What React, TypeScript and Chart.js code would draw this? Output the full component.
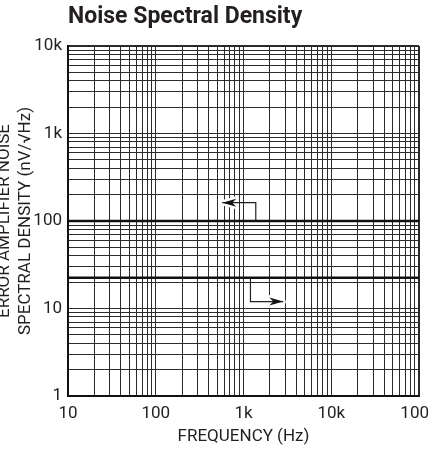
import React, { useEffect, useRef } from 'react';
import { Chart, registerables } from 'chart.js';

Chart.register(...registerables);

// ---- data ----
const title = 'Noise Spectral Density';
const xTitle = 'FREQUENCY (Hz)';
const yTitle = ['ERROR AMPLIFIER NOISE', 'SPECTRAL DENSITY (nV/√Hz)'];

const xDecades = [10, 100, 1000, 10000, 100000];
const xTickLabels = ['10', '100', '1k', '10k', '100k'];
const yDecades = [1, 10, 100, 1000, 10000];
const yTickLabels = ['1', '10', '100', '1k', '10k'];
const gridMultipliers = [1, 2, 3, 4, 5, 6, 7, 8, 9];

const lineFreqs = [10, 100000];
const upperNoise = [100, 100];
const lowerNoise = [22.5, 22.5];

const upperArrowX = [1380, 1380, 573];
const upperArrowY = [100, 162, 162];
const lowerArrowX = [1200, 1200, 2840];
const lowerArrowY = [22.5, 12, 12];

// ---- style ----
const textColor = '#231f20';
const gridColor = '#2b2b2b';
const FONT = 'Roboto';

function gridValues(decades: number[]) {
  const out: number[] = [];
  for (let i = 0; i < decades.length - 1; i++) {
    for (const m of gridMultipliers) out.push(decades[i] * m);
  }
  out.push(decades[decades.length - 1]);
  return out;
}

const arrowShape = (ctx: CanvasRenderingContext2D, x: number, y: number, ang: number) => {
  ctx.translate(x, y);
  ctx.rotate(ang);
  ctx.beginPath();
  ctx.moveTo(0, 0);
  ctx.lineTo(-14, -4);
  ctx.lineTo(-10, 0);
  ctx.lineTo(-14, 4);
  ctx.closePath();
};

const arrowHeads = {
  id: 'arrowHeads',
  beforeDatasetsDraw(chart: any) {
    const ctx = chart.ctx;
    chart.data.datasets.forEach((ds: any, i: number) => {
      if (!ds.arrow) return;
      const pts = chart.getDatasetMeta(i).data;
      const a = pts[pts.length - 2];
      const b = pts[pts.length - 1];
      const ang = Math.atan2(b.y - a.y, b.x - a.x);
      ctx.save();
      arrowShape(ctx, b.x, b.y, ang);
      ctx.lineJoin = 'round';
      ctx.lineWidth = 5;
      ctx.strokeStyle = '#ffffff';
      ctx.stroke();
      ctx.fillStyle = '#ffffff';
      ctx.fill();
      ctx.restore();
    });
  },
  afterDatasetsDraw(chart: any) {
    const ctx = chart.ctx;
    chart.data.datasets.forEach((ds: any, i: number) => {
      if (!ds.arrow) return;
      const pts = chart.getDatasetMeta(i).data;
      const a = pts[pts.length - 2];
      const b = pts[pts.length - 1];
      const ang = Math.atan2(b.y - a.y, b.x - a.x);
      ctx.save();
      arrowShape(ctx, b.x, b.y, ang);
      ctx.fillStyle = '#111111';
      ctx.fill();
      ctx.restore();
    });
  },
};

export default function App() {
  const ref = useRef<HTMLCanvasElement>(null);

  useEffect(() => {
    const xMax = xDecades[xDecades.length - 1];
    const yMax = yDecades[yDecades.length - 1];
    const tickFont = { family: FONT, size: 17, lineHeight: 1.2 };

    const chart = new Chart(ref.current as HTMLCanvasElement, {
      type: 'line',
      data: {
        datasets: [
          {
            data: lineFreqs.map((x, i) => ({ x, y: upperNoise[i] })),
            borderColor: '#111111',
            borderWidth: 2.5,
            pointRadius: 0,
          },
          {
            data: lineFreqs.map((x, i) => ({ x, y: lowerNoise[i] })),
            borderColor: '#111111',
            borderWidth: 2.5,
            pointRadius: 0,
          },
          {
            data: upperArrowX.map((x, i) => ({ x, y: upperArrowY[i] })),
            borderColor: '#222222',
            borderWidth: 1.2,
            pointRadius: 0,
            arrow: true,
          } as any,
          {
            data: lowerArrowX.map((x, i) => ({ x, y: lowerArrowY[i] })),
            borderColor: '#222222',
            borderWidth: 1.2,
            pointRadius: 0,
            arrow: true,
          } as any,
        ],
      },
      options: {
        animation: false,
        responsive: false,
        layout: { padding: { left: 0, right: 28, top: 0, bottom: 0 } },
        plugins: {
          legend: { display: false },
          tooltip: { enabled: false },
          title: {
            display: true,
            text: title,
            align: 'start',
            fullSize: false,
            color: textColor,
            font: { family: FONT, size: 23, weight: 'bold', lineHeight: 1.2 },
            padding: { top: 3, bottom: 15.4 },
          },
        },
        scales: {
          x: {
            type: 'logarithmic',
            min: xDecades[0],
            max: xMax,
            afterBuildTicks: (s: any) => {
              s.ticks = gridValues(xDecades).map((v) => ({ value: v }));
            },
            afterFit: (s: any) => {
              s.height = 54;
            },
            ticks: {
              autoSkip: false,
              maxRotation: 0,
              minRotation: 0,
              padding: 8,
              color: textColor,
              font: tickFont,
              callback: (v: any) => {
                const i = xDecades.indexOf(Number(v));
                return i >= 0 ? xTickLabels[i] : '';
              },
            },
            grid: {
              color: gridColor,
              lineWidth: (c: any) => (c.tick && c.tick.value === xMax ? 2 : 1),
              drawTicks: false,
            },
            border: { display: true, color: '#111111', width: 2 },
            title: {
              display: true,
              text: xTitle,
              color: textColor,
              font: tickFont,
              padding: { top: 0, bottom: 3 },
            },
          },
          y: {
            type: 'logarithmic',
            min: yDecades[0],
            max: yMax,
            afterBuildTicks: (s: any) => {
              s.ticks = gridValues(yDecades).map((v) => ({ value: v }));
            },
            afterFit: (s: any) => {
              s.width = 78;
            },
            ticks: {
              autoSkip: false,
              padding: 6,
              color: textColor,
              font: tickFont,
              callback: (v: any) => {
                const i = yDecades.indexOf(Number(v));
                return i >= 0 ? yTickLabels[i] : '';
              },
            },
            grid: {
              color: gridColor,
              lineWidth: (c: any) => (c.tick && c.tick.value === yMax ? 2 : 1),
              drawTicks: false,
            },
            border: { display: true, color: '#111111', width: 2 },
            title: {
              display: true,
              text: yTitle,
              color: textColor,
              font: { family: FONT, size: 17, lineHeight: 21 / 17 },
              padding: { top: 4, bottom: 0 },
            },
          },
        },
      },
      plugins: [arrowHeads],
    } as any);

    return () => chart.destroy();
  }, []);

  return (
    <div
      style={{
        position: 'fixed',
        left: 0,
        top: 0,
        width: 428,
        height: 450,
        overflow: 'hidden',
        background: '#ffffff',
      }}
    >
      <canvas
        ref={ref}
        width={457}
        height={450}
        style={{ position: 'absolute', left: -10, top: 0, width: 457, height: 450 }}
      />
    </div>
  );
}
